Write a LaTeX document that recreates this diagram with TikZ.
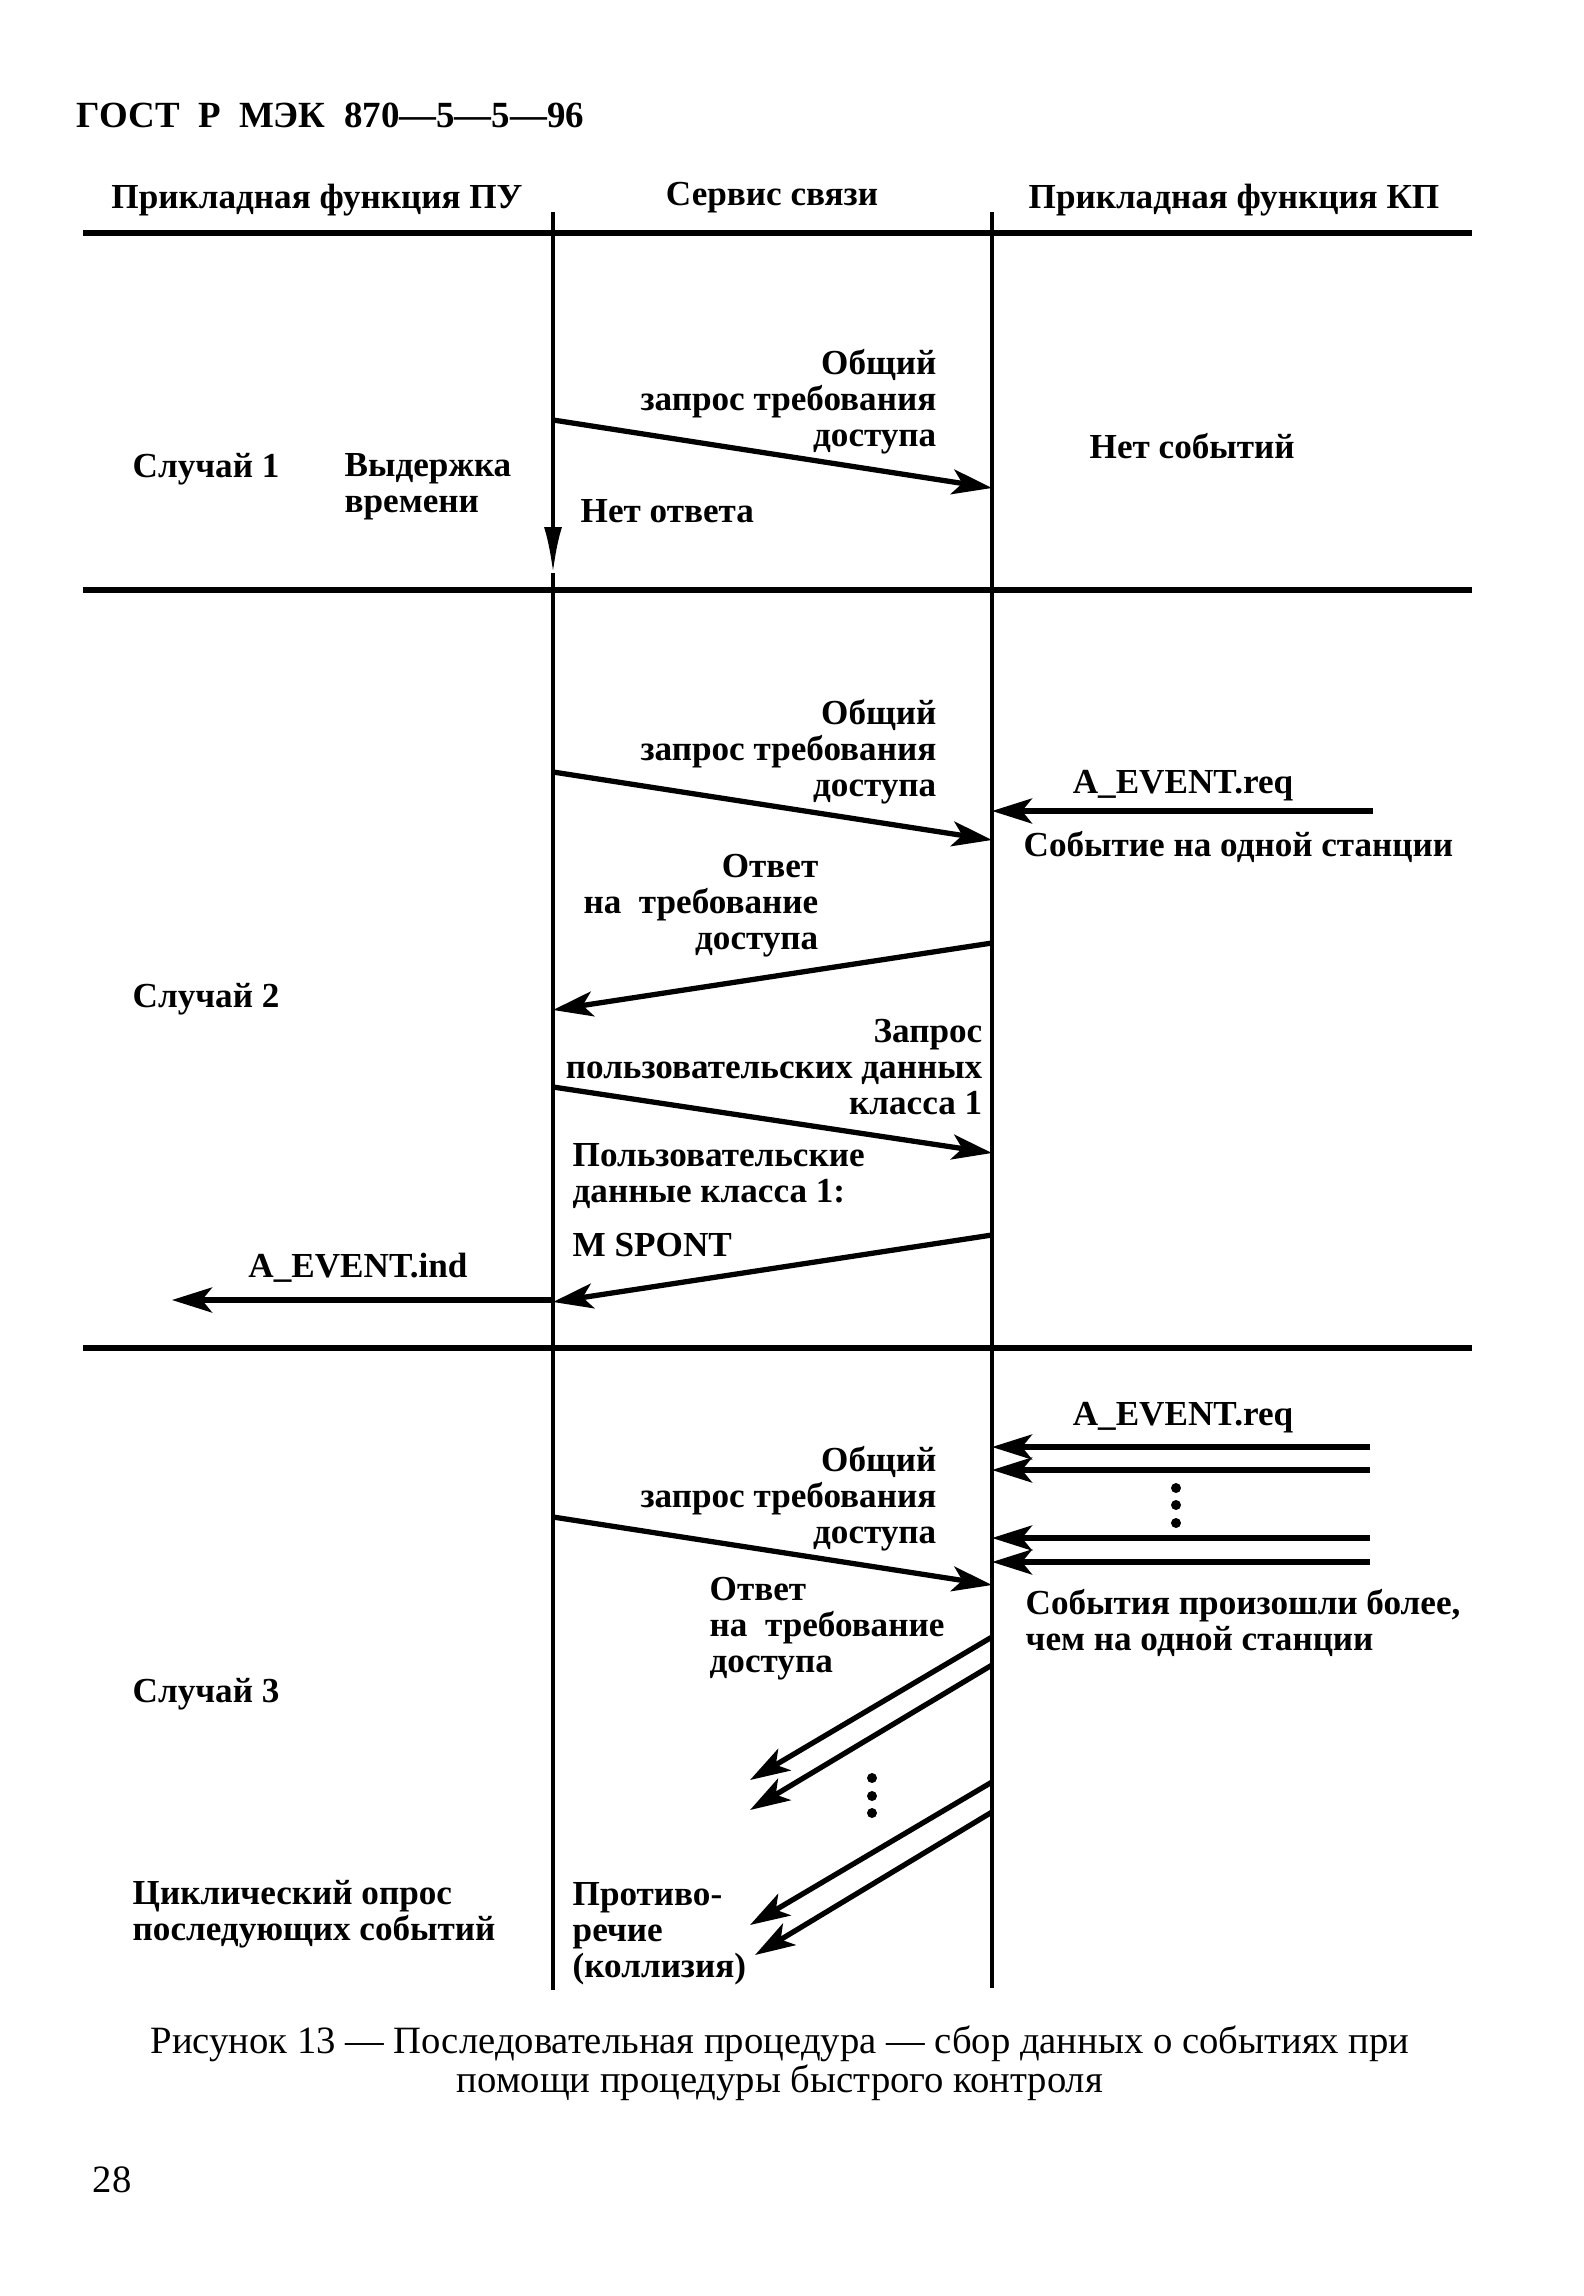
\documentclass[tikz,border=0pt]{standalone}
\usepackage{fontspec}
\setmainfont{Liberation Serif}
\usetikzlibrary{arrows.meta, positioning}

\begin{document}
\begin{tikzpicture}[
            x=0.1mm, y=-0.1mm,
            every node/.style={font=\bfseries\fontsize{10}{10.25}\selectfont, inner sep=0pt},
            lbl/.style={anchor=west, align=left},
            lblr/.style={anchor=east, align=right},
            sepline/.style={line width=1.5pt},
            lifeline/.style={line width=1.2pt},
            msg/.style={line width=1.5pt, -{Stealth[length=4mm, width=2.5mm, inset=1mm]}},
            timeout/.style={line width=1.2pt, -{Latex[length=4.6mm, width=1.8mm]}},
            dot/.style={circle, fill, inner sep=0pt, minimum size=1mm}
        ]
        \useasboundingbox (0,0) rectangle (1584,2296);

        % Header
        \node[anchor=west, font=\bfseries\fontsize{10.5}{12}\selectfont] (gost) at (76,115) {ГОСТ\ \ Р\ \ МЭК\ \ 870—5—5—96};
        \node (colpu) at (317,200) {Прикладная функция ПУ};
        \node (colsv) at (772,198) {Сервис связи};
        \node (colkp) at (1234,200) {Прикладная функция КП};

        % Section lines
        \foreach \y in {233,590,1348}
            \draw[sepline] (83,\y) -- (1472,\y);

        % Lifelines
        \coordinate (pu top) at (553,212);
        \coordinate (pu wait) at (553,573);
        \coordinate (pu bot) at (553,1990);
        \coordinate (kp top) at (992,212);
        \coordinate (kp bot) at (992,1988);

        \draw[timeout] (pu top) -- (pu wait);
        \draw[lifeline] (pu wait) -- (pu bot);
        \draw[lifeline] (kp top) -- (kp bot);

        % Case 1
        \node[lblr] (gen1) at (937,402) {Общий\\запрос требования\\доступа};
        \node[lbl] (noev) at (1089,446) {Нет событий};
        \node[lbl] (case1) at (132,469) {Случай 1};
        \node[lbl] (delay) at (344,487) {Выдержка\\времени};
        \node[lbl] (noans) at (580,511) {Нет ответа};

        \coordinate (gen1 s) at (553,420);
        \coordinate (gen1 e) at (992,488);

        % Case 2
        \node[lblr] (gen2) at (937,752) {Общий\\запрос требования\\доступа};
        \node (req2) at (1183,786) {A\_EVENT.req};
        \node[lbl] (ev2) at (1023,847) {Событие на одной станции};
        \node[lblr] (ans2) at (819,906) {Ответ\\на\ \ требование\\доступа};
        \node[lbl] (case2) at (132,999) {Случай 2};
        \node[lblr] (ud2) at (983,1067) {Запрос\\пользовательских данных\\класса 1};
        \node[lbl] (data2) at (572,1176) {Пользовательские\\данные класса 1:};
        \node[lbl] (spont) at (572,1245) {M SPONT};
        \node (ind2) at (358,1268) {A\_EVENT.ind};

        \coordinate (gen2 s) at (553,772);
        \coordinate (gen2 e) at (992,840);
        \coordinate (req2 s) at (1373,811);
        \coordinate (req2 e) at (992,811);
        \coordinate (ans2 s) at (992,943);
        \coordinate (ans2 e) at (553,1010);
        \coordinate (ud2 s) at (553,1087);
        \coordinate (ud2 e) at (992,1153);
        \coordinate (data2 s) at (992,1235);
        \coordinate (data2 e) at (553,1302);
        \coordinate (ind2 s) at (553,1300);
        \coordinate (ind2 e) at (172,1300);

        % Case 3
        \node (req3) at (1183,1418) {A\_EVENT.req};
        \node[lblr] (gen3) at (937,1499) {Общий\\запрос требования\\доступа};
        \node[lbl] (ans3) at (709,1629) {Ответ\\на\ \ требование\\доступа};
        \node[lbl] (ev3) at (1025,1623) {События произошли более,\\чем на одной станции};
        \node[lbl] (case3) at (132,1694) {Случай 3};
        \node[lbl] (poll3) at (132,1914) {Циклический опрос\\последующих событий};
        \node[lbl] (coll3) at (572,1934) {Противо-\\речие\\(коллизия)};

        \node[dot] (rd1) at (1176,1488) {};
        \node[dot] (rd2) at (1176,1505) {};
        \node[dot] (rd3) at (1176,1523) {};
        \node[dot] (ad1) at (872,1778) {};
        \node[dot] (ad2) at (872,1796) {};
        \node[dot] (ad3) at (872,1813) {};

        \coordinate (gen3 s) at (553,1517);
        \coordinate (gen3 e) at (992,1585);
        \foreach \n/\y in {a/1447, b/1470, c/1538, d/1562} {
            \coordinate (req3\n-s) at (1370,\y);
            \coordinate (req3\n-e) at (992,\y);
        }
        \coordinate (ans3a-s) at (992,1637);
        \coordinate (ans3a-e) at (750,1780);
        \coordinate (ans3b-s) at (992,1665);
        \coordinate (ans3b-e) at (750,1810);
        \coordinate (ans3c-s) at (992,1782);
        \coordinate (ans3c-e) at (750,1925);
        \coordinate (ans3d-s) at (992,1812);
        \coordinate (ans3d-e) at (755,1955);

        % Arrows
        \draw[msg] (gen1 s) -- (gen1 e);

        \draw[msg] (gen2 s) -- (gen2 e);
        \draw[msg] (req2 s) -- (req2 e);
        \draw[msg] (ans2 s) -- (ans2 e);
        \draw[msg] (ud2 s) -- (ud2 e);
        \draw[msg] (data2 s) -- (data2 e);
        \draw[msg] (ind2 s) -- (ind2 e);

        \draw[msg] (gen3 s) -- (gen3 e);
        \foreach \n in {a,b,c,d} {
            \draw[msg] (req3\n-s) -- (req3\n-e);
            \draw[msg] (ans3\n-s) -- (ans3\n-e);
        }

        % Caption
        \node[font=\fontsize{11}{11.1}\selectfont, align=center] (cap) at (780,2063)
            {Рисунок 13 — Последовательная процедура — сбор данных о событиях при\\помощи процедуры быстрого контроля};
        \node[font=\fontsize{11}{12}\selectfont] (pgno) at (112,2180) {28};

        \end{tikzpicture}
\end{document}
